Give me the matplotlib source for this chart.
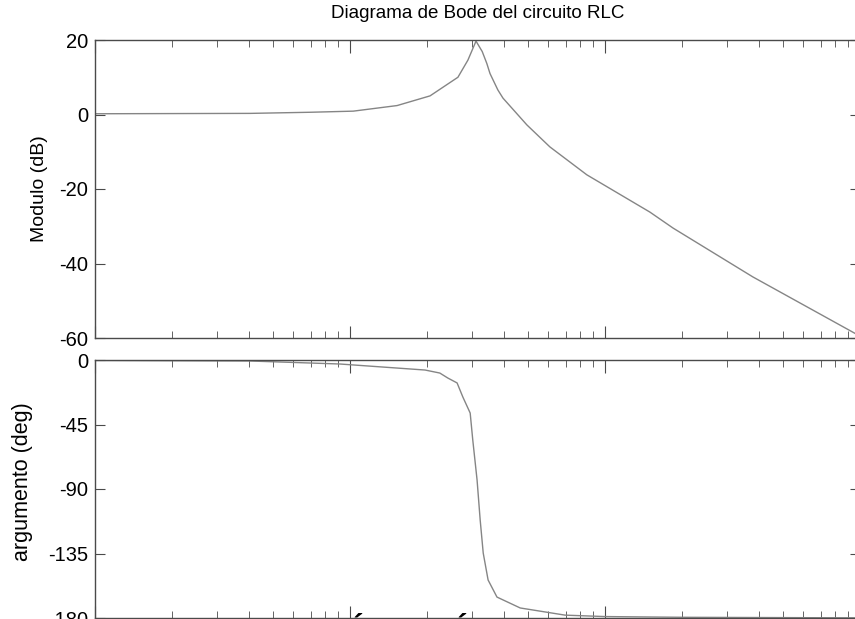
import numpy as np
import matplotlib
matplotlib.use('Agg')
import matplotlib.pyplot as plt
from matplotlib.ticker import LogLocator, NullFormatter

plt.rcParams['font.family'] = ['Liberation Sans', 'DejaVu Sans']
plt.rcParams['axes.unicode_minus'] = False

# frequency (rad/s) and magnitude (dB)
w_mag = [1, 4.06, 6.97, 10.3, 15.3, 20.6, 26.5, 29.0, 31.2, 33.0, 34.4, 35.4,
         38.0, 39.8, 49.4, 60.8, 84.9, 150, 185, 380, 1000]
mag_db = [0.2, 0.3, 0.6, 0.9, 2.4, 5.0, 10.0, 14.6, 19.7, 16.9, 13.7, 11.0,
          6.6, 4.4, -2.8, -8.7, -16.2, -26.2, -30.5, -43.6, -59.5]

# frequency (rad/s) and phase (deg)
w_ph = [1, 4.06, 9.14, 19.7, 22.5, 24.2, 26.3, 27.7, 29.6, 30.3, 31.5, 32.4,
        33.3, 34.8, 37.7, 46.5, 69.7, 100, 200, 1000]
phase_deg = [-0.3, -0.7, -2.8, -7.0, -9.1, -12.6, -16.0, -25.8, -37.0, -55.8,
             -83.7, -111.7, -134.7, -153.5, -165.4, -173.0, -178.0, -179.0,
             -179.5, -179.9]

mag_ticks = [20, 0, -20, -40, -60]
phase_ticks = [0, -45, -90, -135, -180]

W, H = 855, 619
fig = plt.figure(figsize=(W / 100, H / 100), dpi=100)

def px_axes(left, right, top, bottom):
    return fig.add_axes([left / W, (H - bottom) / H, (right - left) / W, (bottom - top) / H])

spine_col = '#4a4a4a'
line_col = '#858585'

def style(ax):
    ax.set_xscale('log')
    ax.set_xlim(1, 1000)
    for s in ax.spines.values():
        s.set_color(spine_col)
        s.set_linewidth(1.0)
    ax.tick_params(which='both', direction='in', top=True, right=True,
                   color=spine_col, labelbottom=False, labelsize=14.5, pad=5)
    ax.tick_params(which='major', length=9)
    ax.tick_params(which='minor', length=5)
    ax.tick_params(axis='y', which='major', length=7)
    ax.xaxis.set_minor_locator(LogLocator(base=10, subs=np.arange(2, 10)))
    ax.xaxis.set_minor_formatter(NullFormatter())

ax1 = px_axes(95, 860, 40, 338)
style(ax1)
ax1.plot(w_mag, mag_db, color=line_col, lw=1.0)
ax1.set_ylim(-60, 20)
ax1.set_yticks(mag_ticks)
ax1.set_ylabel('Modulo (dB)', fontsize=14)
ax1.yaxis.set_label_coords(-0.062, 0.5)
ax1.set_title('Diagrama de Bode del circuito RLC', fontsize=13.5, pad=16)

ax2 = px_axes(95, 860, 360, 618)
style(ax2)
ax2.plot(w_ph, phase_deg, color=line_col, lw=1.0)
ax2.set_ylim(-180, 0)
ax2.set_yticks(phase_ticks)
ax2.set_ylabel('argumento (deg)', fontsize=15.5)
ax2.yaxis.set_label_coords(-0.081, 0.53)

# tops of the accented capitals of a caption cut off below the picture
fig.text(357 / W, 1 / H, 'É', fontsize=22, fontweight='bold', ha='center', va='top')
fig.text(461 / W, 1 / H, 'É', fontsize=22, fontweight='bold', ha='center', va='top')

fig.savefig('out.png', dpi=100)
